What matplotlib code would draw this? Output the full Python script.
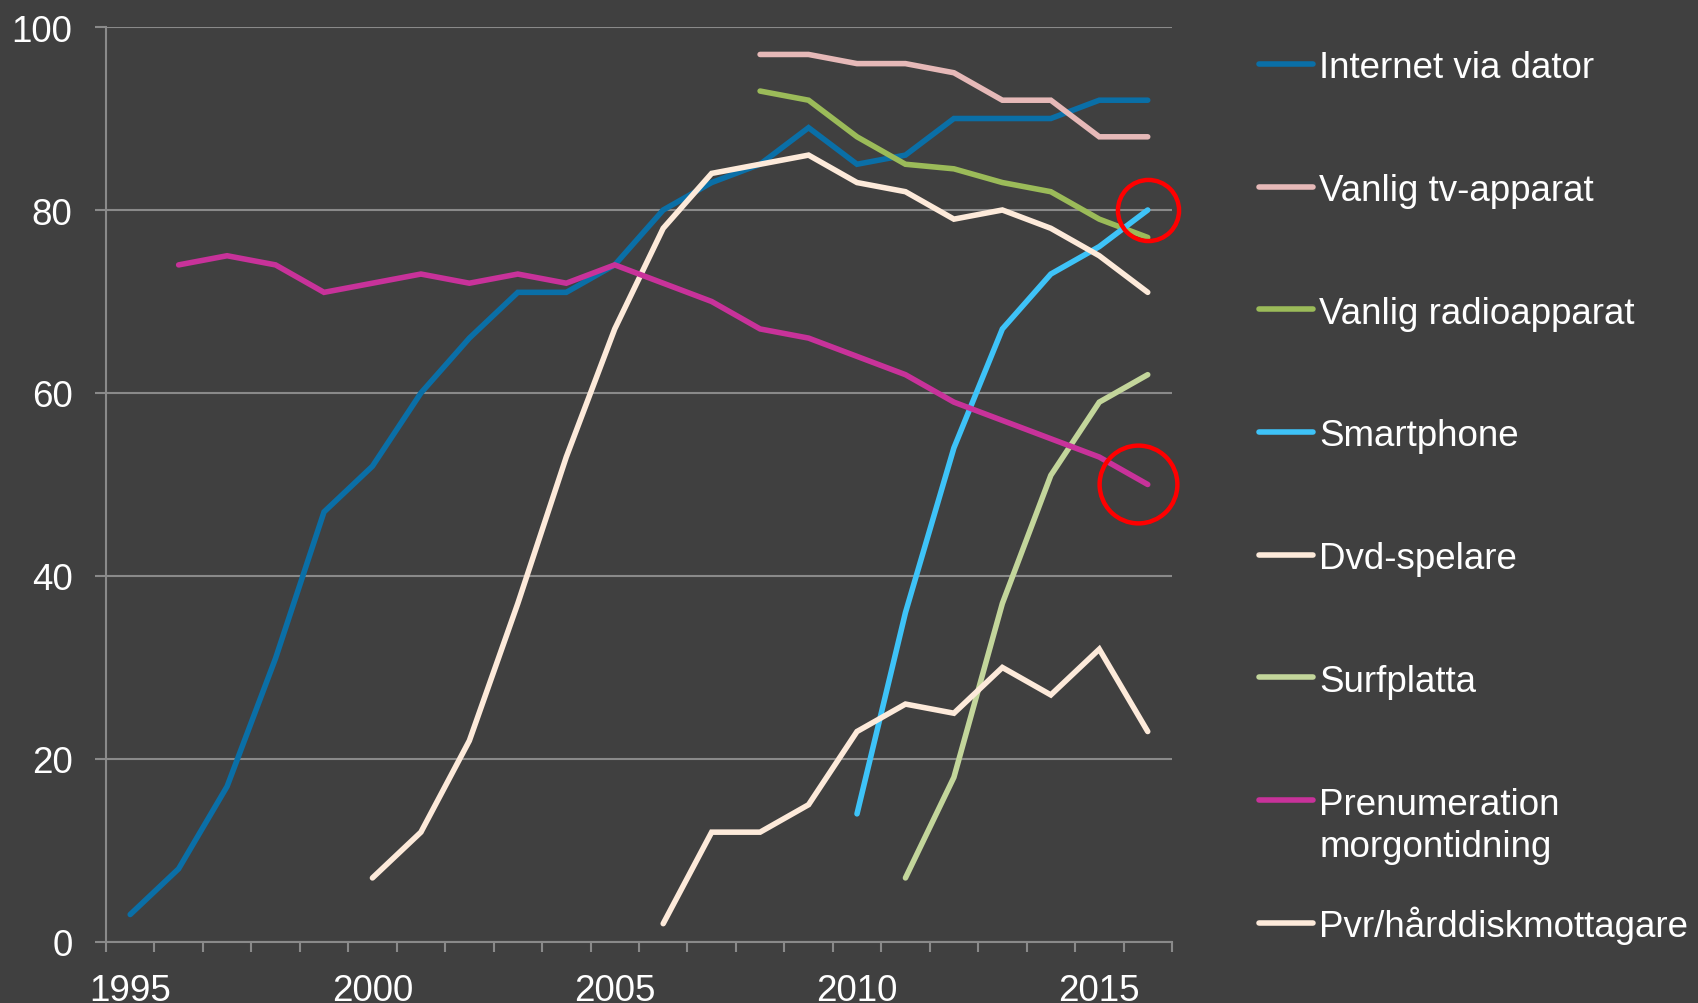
import numpy as np
import matplotlib
matplotlib.use("Agg")
import matplotlib.pyplot as plt
from matplotlib.lines import Line2D
from matplotlib.transforms import offset_copy

plt.rcParams['font.family'] = ['Liberation Sans', 'DejaVu Sans']

# Data (percent of population)
names = ["Internet via dator", "Vanlig tv-apparat", "Vanlig radioapparat",
         "Smartphone", "Dvd-spelare", "Surfplatta",
         "Prenumeration\nmorgontidning", "Pvr/hårddiskmottagare"]
start_years = [1995, 2008, 2008, 2010, 2000, 2011, 1996, 2006]

internet = [3, 8, 17, 31, 47, 52, 60, 66, 71, 71, 74, 80, 83, 85, 89, 85, 86, 90, 90, 90, 92, 92]
tv = [97, 97, 96, 96, 95, 92, 92, 88, 88]
radio = [93, 92, 88, 85, 84.5, 83, 82, 79, 77]
smartphone = [14, 36, 54, 67, 73, 76, 80]
dvd = [7, 12, 22, 37, 53, 67, 78, 84, 85, 86, 83, 82, 79, 80, 78, 75, 71]
surfplatta = [7, 18, 37, 51, 59, 62]
morgontidning = [74, 75, 74, 71, 72, 73, 72, 73, 72, 74, 72, 70, 67, 66, 64, 62, 59, 57, 55, 53, 50]
pvr = [2, 12, 12, 15, 23, 26, 25, 30, 27, 32, 23]

series = [internet, tv, radio, smartphone, dvd, surfplatta, morgontidning, pvr]
colors = ["#0a6fa7", "#e6b9b8", "#9bbb59", "#3ec3f8",
          "#fdeada", "#c3d69b", "#c8329a", "#fdeada"]

y_ticks = [0, 20, 40, 60, 80, 100]
x_labels = [1995, 2000, 2005, 2010, 2015]

bg = "#404040"
grid_col = "#8a8a8a"

fig = plt.figure(figsize=(16.98, 10.04), dpi=100, facecolor=bg)
ax = fig.add_axes([0.0624, 0.0608, 0.6278, 0.9113], facecolor=bg)

for vals, start, col in zip(series, start_years, colors):
    yrs = np.arange(start, start + len(vals))
    ax.plot(yrs, vals, color=col, lw=4, solid_capstyle='round',
            solid_joinstyle='miter', zorder=3)

# red highlight circles at the end of two series
ax.plot(start_years[3] + len(smartphone) - 1, smartphone[-1], 'o',
        ms=44, mfc='none', mec='#ff0000', mew=3.2, zorder=4, clip_on=False)
shifted = offset_copy(ax.transData, fig=fig, x=-7, y=0, units='points')
ax.plot(start_years[6] + len(morgontidning) - 1, morgontidning[-1], 'o',
        ms=56, mfc='none', mec='#ff0000', mew=3.2, zorder=4, clip_on=False,
        transform=shifted)

ax.set_xlim(1994.5, 2016.5)
ax.set_ylim(0, 100)
ax.set_yticks(y_ticks)
ax.set_xticks(x_labels)
ax.set_xticks(np.arange(1994.5, 2017, 1), minor=True)

ax.grid(axis='y', color=grid_col, lw=1.5, zorder=1)
for s in ['top', 'right']:
    ax.spines[s].set_visible(False)
for s in ['left', 'bottom']:
    ax.spines[s].set_color(grid_col)
    ax.spines[s].set_linewidth(1.5)

ax.tick_params(axis='x', which='major', length=0, pad=22, labelsize=26.5,
               labelcolor='white')
ax.tick_params(axis='x', which='minor', length=7.5, width=1.5, color=grid_col)
ax.tick_params(axis='y', length=8, width=1.5, color=grid_col, pad=16,
               labelsize=26.5, labelcolor='white')

# legend drawn by hand so the two-line entry keeps the even spacing
y0 = 0.9353
step = 0.1222
line_gap = 0.0421
for i, (name, col) in enumerate(zip(names, colors)):
    y = y0 - i * step
    fig.add_artist(Line2D([0.7415, 0.7733], [y, y], color=col, lw=4,
                          solid_capstyle='round', transform=fig.transFigure))
    n_extra = name.count("\n")
    fig.text(0.777, y - 0.0132 - n_extra * line_gap, name, color='white',
             fontsize=26.5, va='baseline', ha='left', linespacing=1.26)

fig.savefig("out.png", dpi=100, facecolor=bg)
